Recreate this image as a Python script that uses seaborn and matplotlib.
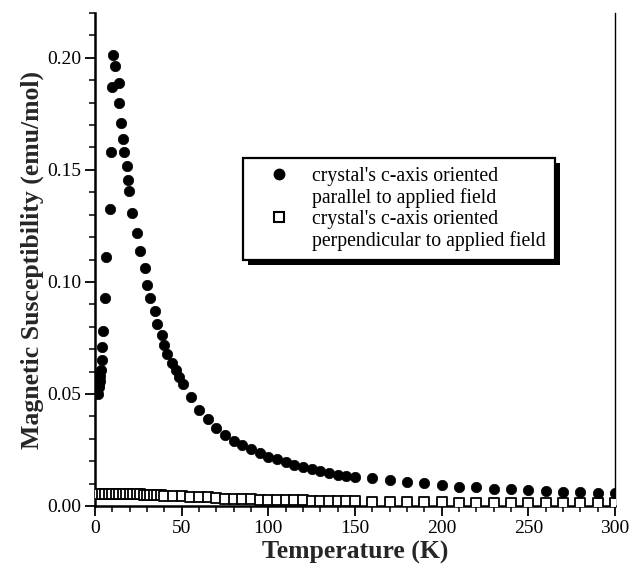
import matplotlib
matplotlib.use("Agg")
import matplotlib.pyplot as plt
import matplotlib.patheffects as pe
from matplotlib.lines import Line2D
from matplotlib.ticker import MultipleLocator, FormatStrFormatter
import seaborn as sns
import pandas as pd

# ---------------- data ----------------
T_par = [1.7, 2.1, 2.3, 2.6, 2.9, 3.3, 3.9, 4.1, 4.8, 6.0, 6.5, 8.5, 9.2, 10.0, 10.6,
         11.5, 13.6, 14.0, 15.0, 16.0, 16.5, 18.5, 19.2, 19.8, 21.3, 24.2, 26.0,
         28.7, 30.0, 31.9, 34.4, 35.8, 38.5, 40.0, 41.7, 44.6, 46.7, 48.5, 50.6,
         55.4, 60, 65, 70, 75, 80, 85, 90, 95, 100, 105, 110, 115, 120, 125, 130,
         135, 140, 145, 150, 160, 170, 180, 190, 200, 210, 220, 230, 240, 250,
         260, 270, 280, 290, 300]
chi_par = [0.0500, 0.0530, 0.0545, 0.0560, 0.0580, 0.0605, 0.0652, 0.0711, 0.0780,
           0.0930, 0.1110, 0.1327, 0.1580, 0.1870, 0.2013, 0.1963, 0.1890, 0.1800,
           0.1710, 0.1637, 0.1580, 0.1517, 0.1455, 0.1406, 0.1308, 0.1220, 0.1137,
           0.1064, 0.0987, 0.0930, 0.0872, 0.0814, 0.0763, 0.0717, 0.0680, 0.0640,
           0.0607, 0.0577, 0.0545, 0.0488, 0.0429, 0.0388, 0.0350, 0.0317, 0.0292,
           0.0272, 0.0253, 0.0235, 0.0220, 0.0208, 0.0195, 0.0183, 0.0173, 0.0164,
           0.0155, 0.0146, 0.0140, 0.0135, 0.0131, 0.0127, 0.0116, 0.0108, 0.0101,
           0.0094, 0.0086, 0.0083, 0.0077, 0.0076, 0.0071, 0.0068, 0.0064, 0.0064,
           0.0059, 0.0059]

T_perp = [2, 4, 6, 8, 10, 12, 14, 16, 18, 20, 22, 24, 26, 28, 30, 32, 34, 36, 38,
          40, 45, 50, 55, 60, 65, 70, 75, 80, 85, 90, 95, 100, 105, 110, 115, 120,
          125, 130, 135, 140, 145, 150, 160, 170, 180, 190, 200, 210, 220, 230,
          240, 250, 260, 270, 280, 290, 300]
chi_perp = [0.0053, 0.0053, 0.0053, 0.0053, 0.0052, 0.0052, 0.0052, 0.0052, 0.0052,
            0.0052, 0.0052, 0.0052, 0.0052, 0.0051, 0.0051, 0.0051, 0.0050, 0.0050,
            0.0049, 0.0045, 0.0044, 0.0043, 0.0039, 0.0038, 0.0038, 0.0037, 0.0033,
            0.0033, 0.0032, 0.0032, 0.0027, 0.0027, 0.0027, 0.0026, 0.0026, 0.0026,
            0.0022, 0.0022, 0.0021, 0.0021, 0.0021, 0.0021, 0.0017, 0.0017, 0.0016,
            0.0016, 0.0016, 0.0015, 0.0015, 0.0015, 0.0015, 0.0014, 0.0014, 0.0014,
            0.0014, 0.0014, 0.0014]

legend_lines = ["crystal's c-axis oriented", "parallel to applied field",
                "crystal's c-axis oriented", "perpendicular to applied field"]
x_label = "Temperature (K)"
y_label = "Magnetic Susceptibility (emu/mol)"

df_par = pd.DataFrame({"T": T_par, "chi": chi_par})
df_perp = pd.DataFrame({"T": T_perp, "chi": chi_perp})

# ---------------- style ----------------
sns.set_theme(style="ticks")
plt.rcParams["font.family"] = ["Liberation Serif", "DejaVu Serif"]
plt.rcParams["axes.edgecolor"] = "black"
plt.rcParams["xtick.color"] = "black"
plt.rcParams["ytick.color"] = "black"

fig = plt.figure(figsize=(6.31, 5.67), dpi=100)
ax = fig.add_axes([0.1506, 0.1076, 0.824, 0.8694])

sns.scatterplot(data=df_perp, x="T", y="chi", ax=ax, marker="s", s=50,
                facecolor="white", edgecolor="black", linewidth=1.3, zorder=3)
sns.scatterplot(data=df_par, x="T", y="chi", ax=ax, marker="o", s=56,
                color="black", edgecolor="black", linewidth=0.5, zorder=4)

ax.set_xlim(0, 300)
ax.set_ylim(0, 0.22)
ax.xaxis.set_major_locator(MultipleLocator(50))
ax.xaxis.set_minor_locator(MultipleLocator(10))
ax.yaxis.set_major_locator(MultipleLocator(0.05))
ax.yaxis.set_minor_locator(MultipleLocator(0.01))
ax.yaxis.set_major_formatter(FormatStrFormatter("%.2f"))

ax.tick_params(which="major", direction="out", length=7, width=1.3, labelsize=14,
               pad=3)
ax.tick_params(which="minor", direction="out", length=4, width=1.1)
ax.tick_params(right=False, top=False)

for side in ["left", "bottom"]:
    ax.spines[side].set_linewidth(1.8)
ax.spines["right"].set_linewidth(1.0)
ax.spines["top"].set_visible(False)

ax.set_xlabel(x_label, fontsize=18.5, fontweight="bold", labelpad=3)
ax.set_ylabel(y_label, fontsize=18.5, fontweight="bold", labelpad=2)

# legend: marker next to the first line of each two-line label
handles = [
    Line2D([], [], linestyle="none", marker="o", markersize=7.5,
           markerfacecolor="black", markeredgecolor="black"),
    Line2D([], [], linestyle="none", marker=None),
    Line2D([], [], linestyle="none", marker="s", markersize=6.5,
           markerfacecolor="white", markeredgecolor="black", markeredgewidth=1.5),
    Line2D([], [], linestyle="none", marker=None),
]
leg = ax.legend(handles, legend_lines, loc="upper left",
                bbox_to_anchor=(0.285, 0.705), frameon=True, fancybox=False,
                framealpha=1, edgecolor="black", fontsize=14.2,
                handletextpad=0.3, handlelength=2.75, borderpad=0.45,
                labelspacing=0.1, borderaxespad=0)
frame = leg.get_frame()
frame.set_linewidth(1.6)
frame.set_path_effects([pe.SimplePatchShadow(offset=(3.5, -3.5),
                                             shadow_rgbFace="black", alpha=1),
                        pe.Normal()])
for t in leg.get_texts():
    t.set_color("black")

fig.savefig("out.png", dpi=100, facecolor="white")
